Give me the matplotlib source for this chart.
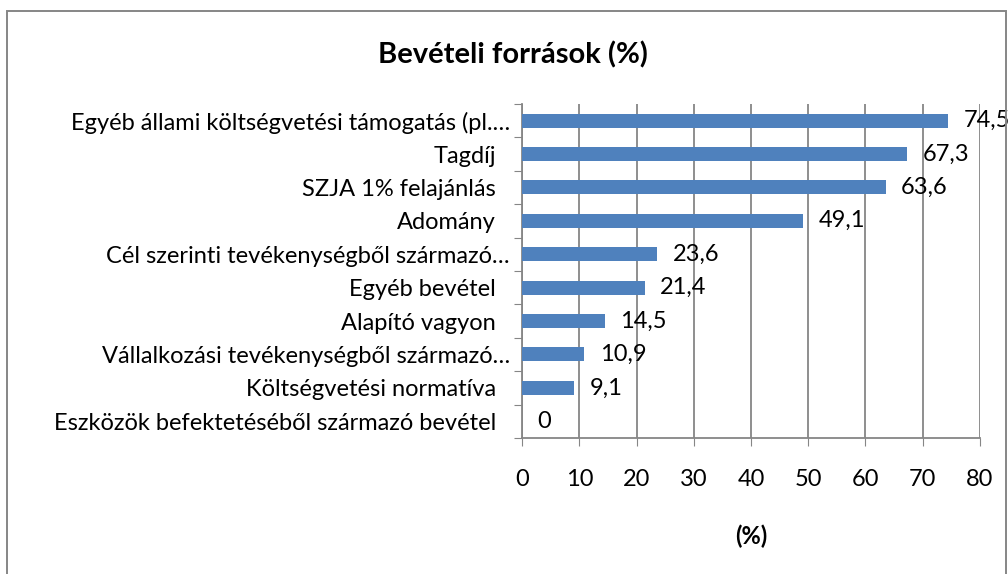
import matplotlib
matplotlib.use('Agg')
import matplotlib.pyplot as plt
import matplotlib.transforms as mtransforms
from matplotlib.patches import Rectangle

plt.rcParams['font.family'] = ['Lato', 'DejaVu Sans']

# adatok (felülről lefelé)
categories = [
    'Egyéb állami költségvetési támogatás (pl.…',
    'Tagdíj',
    'SZJA 1% felajánlás',
    'Adomány',
    'Cél szerinti tevékenységből származó…',
    'Egyéb bevétel',
    'Alapító vagyon',
    'Vállalkozási tevékenységből származó…',
    'Költségvetési normatíva',
    'Eszközök befektetéséből származó bevétel',
]
values = [74.5, 67.3, 63.6, 49.1, 23.6, 21.4, 14.5, 10.9, 9.1, 0]
value_labels = ['74,5', '67,3', '63,6', '49,1', '23,6', '21,4', '14,5', '10,9', '9,1', '0']
xticks = [0, 10, 20, 30, 40, 50, 60, 70, 80]

BAR = '#4F81BD'
GRID = '#868686'
FS = 17

fig = plt.figure(figsize=(10.08, 5.74), dpi=100)
ax = fig.add_axes([0.518, 0.237, 0.454, 0.582])

ypos = list(range(len(categories)))[::-1]
ax.barh(ypos, values, height=0.42, color=BAR, zorder=3)

for y, v, lab in zip(ypos, values, value_labels):
    ax.annotate(lab, (v, y), xytext=(11, 0), textcoords='offset points',
                ha='left', va='center', fontsize=FS, color='black', zorder=4)

ax.set_xlim(0, 80)
ax.set_ylim(-0.5, len(categories) - 0.5)
ax.set_xticks(xticks)
ax.set_xticklabels([str(t) for t in xticks], fontsize=FS)

# kategória határokon lévő tickek, címkék középen
ax.set_yticks([y - 0.5 for y in range(len(categories) + 1)])
ax.set_yticklabels([])
ax.set_yticks(ypos, minor=True)
ax.set_yticklabels(categories, minor=True, fontsize=FS)
ax.tick_params(axis='y', which='major', length=6, color=GRID, direction='out')
ax.tick_params(axis='y', which='minor', length=0, pad=19)
ax.tick_params(axis='x', length=6, color=GRID, direction='out', pad=16)

# a "…"-ra végződő címkék jobbra lógnak
for lbl in ax.get_yticklabels(minor=True):
    if lbl.get_text().endswith('…'):
        lbl.set_transform(lbl.get_transform() +
                          mtransforms.ScaledTranslation(14 / 100, 0, fig.dpi_scale_trans))

ax.grid(axis='x', color=GRID, linewidth=1.3, zorder=0)
for s in ['top', 'right']:
    ax.spines[s].set_visible(False)
for s in ['left', 'bottom']:
    ax.spines[s].set_color(GRID)
    ax.spines[s].set_linewidth(1.3)

ax.set_xlabel('(%)', fontsize=FS, fontweight='bold', labelpad=25)
fig.text(0.509, 0.905, 'Bevételi források (%)', ha='center', va='center',
         fontsize=21, fontweight='bold')

fig.patches.append(Rectangle((7 / 1008, -0.05), 999 / 1008, 1.05 - 11 / 574,
                             transform=fig.transFigure, fill=False,
                             edgecolor=GRID, linewidth=1.4))

fig.savefig('out.png', dpi=100)
